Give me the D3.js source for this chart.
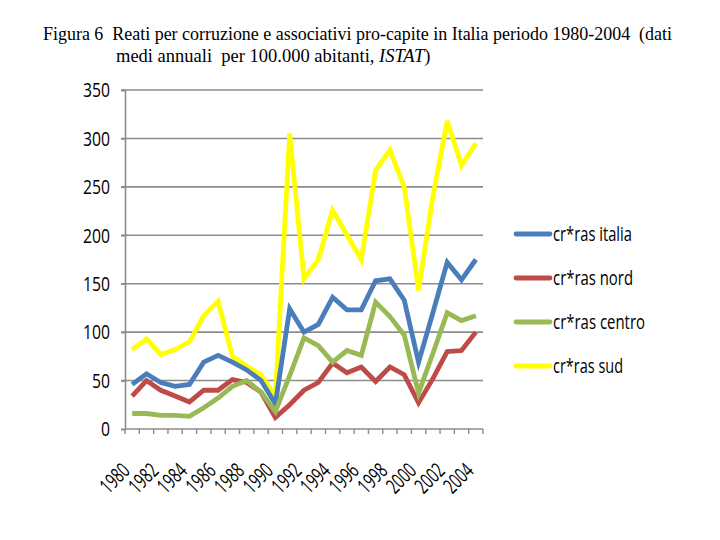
<!DOCTYPE html>
<html><head><meta charset="utf-8">
<script src="https://cdn.jsdelivr.net/npm/d3@7"></script>
<style>body{margin:0;background:#fff}svg{display:block}</style>
</head><body>
<script>
const years = d3.range(1980, 2005);
const italia = [46,57,48,44,46,69,76,69,61,50,26,124,100,108,136,123,123,153,155,133,69,120,172,154,175];
const nord   = [34,50,40,34,28,40,40,51,48,38,12,25,40,48,68,58,64,49,64,56,27,52,80,81,100];
const centro = [16,16,14,14,13,22,32,44,50,38,18,55,94,86,69,81,76,131,116,97,37,78,120,112,117];
const sud    = [82,93,77,82,90,117,132,75,65,56,33,305,155,175,226,200,175,267,288,250,143,240,318,272,295];
const seriesNames = ["cr*ras italia","cr*ras nord","cr*ras centro","cr*ras sud"];
const seriesColors = ["#4a7ebb","#be4b48","#98b954","#ffff00"];
const yTicks = [0,50,100,150,200,250,300,350];
const xTickLabels = years.filter(y => y % 2 === 0);

const W = 720, H = 540;
const svg = d3.select("body").append("svg").attr("width", W).attr("height", H);
const fontAxis = "'Open Sans',Roboto,sans-serif";

// title
const title = svg.append("g").attr("font-family", "'Liberation Serif','Times New Roman',serif")
  .attr("font-size", 17.8).attr("fill", "#000");
title.append("text").attr("x", 43).attr("y", 40).attr("xml:space","preserve")
  .attr("textLength", 629).attr("lengthAdjust", "spacingAndGlyphs")
  .text("Figura 6  Reati per corruzione e associativi pro-capite in Italia periodo 1980-2004  (dati");
const t2 = title.append("text").attr("x", 116).attr("y", 62).attr("xml:space","preserve")
  .attr("font-size", 18.5);
t2.append("tspan").text("medi annuali  per 100.000 abitanti, ");
t2.append("tspan").attr("font-style","italic").text("ISTAT");
t2.append("tspan").text(")");

const x0 = 125, x1 = 483, y0 = 429, y1 = 90;
const x = d3.scaleBand().domain(years).range([x0, x1]);
const y = d3.scaleLinear().domain([0, 350]).range([y0, y1]);

// gridlines
svg.append("g").selectAll("line").data(yTicks.filter(d => d > 0)).join("line")
  .attr("x1", x0 - 4).attr("x2", x1).attr("y1", d => y(d)).attr("y2", d => y(d))
  .attr("stroke", "#8c8c8c").attr("stroke-width", 1.6);

// y axis
const yAxis = svg.append("g").attr("transform", `translate(${x0},0)`)
  .call(d3.axisLeft(y).tickValues(yTicks).tickSize(4).tickPadding(11));
yAxis.select(".domain").attr("stroke", "#8c8c8c").attr("stroke-width", 1.6);
yAxis.selectAll(".tick line").attr("stroke", "#8c8c8c").attr("stroke-width", 1.6);
yAxis.selectAll("text").attr("font-family", fontAxis).attr("font-size", 20).attr("fill", "#000")
  .attr("dy", "0.34em")
  .attr("textLength", d => String(d).length * 9).attr("lengthAdjust", "spacingAndGlyphs");

// x axis
const xAxis = svg.append("g").attr("transform", `translate(0,${y0})`);
xAxis.append("line").attr("x1", x0).attr("x2", x1).attr("stroke", "#8c8c8c").attr("stroke-width", 1.6);
xAxis.selectAll("line.tk").data(d3.range(years.length + 1)).join("line").attr("class","tk")
  .attr("x1", i => x0 + i * x.step()).attr("x2", i => x0 + i * x.step())
  .attr("y1", 0).attr("y2", 5).attr("stroke", "#8c8c8c").attr("stroke-width", 1.4);
xAxis.selectAll("text").data(xTickLabels).join("text")
  .attr("transform", d => `translate(${x(d) + x.bandwidth()/2 - 1},${43}) rotate(-45)`)
  .attr("text-anchor", "end").attr("font-family", fontAxis).attr("font-size", 21).attr("fill", "#000")
  .attr("textLength", 32).attr("lengthAdjust", "spacingAndGlyphs")
  .text(d => d);

// lines
const allSeries = [italia, nord, centro, sud];
const line = d3.line().x((d, i) => x(years[i]) + x.bandwidth()/2).y(d => y(d));
const drawOrder = [3, 0, 1, 2];
svg.append("g").selectAll("path").data(drawOrder).join("path")
  .attr("d", k => line(allSeries[k])).attr("fill", "none")
  .attr("stroke", k => seriesColors[k]).attr("stroke-width", 4.8)
  .attr("stroke-linejoin", "miter").attr("stroke-linecap", "butt");

// legend
const legendWidths = [79, 80, 92, 70];
const leg = svg.append("g");
seriesNames.forEach((name, k) => {
  const ly = 234 + k * 44;
  leg.append("line").attr("x1", 516).attr("x2", 550).attr("y1", ly).attr("y2", ly)
    .attr("stroke", seriesColors[k]).attr("stroke-width", 4.8).attr("stroke-linecap", "round");
  leg.append("text").attr("x", 553).attr("y", ly + 7).attr("font-family", fontAxis)
    .attr("font-size", 20).attr("fill", "#000")
    .attr("textLength", legendWidths[k]).attr("lengthAdjust", "spacingAndGlyphs").text(name);
});
</script>
</body></html>
